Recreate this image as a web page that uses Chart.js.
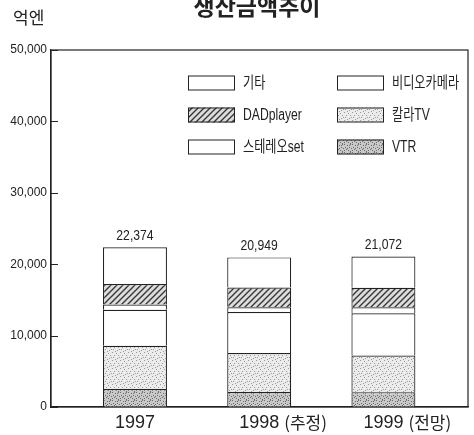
<!DOCTYPE html>
<html>
<head>
<meta charset="utf-8">
<script src="https://cdn.jsdelivr.net/npm/chart.js@4.4.1/dist/chart.umd.min.js"></script>
<style>
  html, body { margin: 0; padding: 0; background: #fff; }
</style>
</head>
<body>
<canvas id="prodChart" width="474" height="435"></canvas>
<script>
// 생산금액추이 (억엔)
const categories = ["1997", "1998 (추정)", "1999 (전망)"];
const totals = [22374, 20949, 21072];

// stacked from bottom to top
const vtr = [2510, 2110, 2080];
const colorTv = [6060, 5450, 5140];
const videoCamera = [5050, 5740, 5920];
const stereoSet = [720, 670, 820];
const dadPlayer = [2890, 2770, 2740];
const others = [5144, 4209, 4372];

const seriesNames = ["VTR", "칼라TV", "비디오카메라", "스테레오set", "DADplayer", "기타"];
const seriesValues = [vtr, colorTv, videoCamera, stereoSet, dadPlayer, others];
const legendCols = [["기타", "DADplayer", "스테레오set"], ["비디오카메라", "칼라TV", "VTR"]];

const LATIN = "'Liberation Sans', 'Noto Sans CJK KR', sans-serif";
const KR = "'Noto Sans CJK KR', sans-serif";
const INK = "#222";

// fill textures
function stipple(base, dot, dots) {
  const c = document.createElement("canvas");
  c.width = c.height = 8;
  const g = c.getContext("2d");
  g.fillStyle = base;
  g.fillRect(0, 0, 8, 8);
  g.fillStyle = dot;
  dots.forEach(([x, y]) => g.fillRect(x, y, 1, 1));
  return g.createPattern(c, "repeat");
}
function hatch() {
  const c = document.createElement("canvas");
  c.width = c.height = 6;
  const g = c.getContext("2d");
  g.fillStyle = "#dcdcdc";
  g.fillRect(0, 0, 6, 6);
  g.strokeStyle = "#333";
  g.lineWidth = 1.3;
  g.beginPath();
  g.moveTo(0, 6); g.lineTo(6, 0);
  g.moveTo(-3, 3); g.lineTo(3, -3);
  g.moveTo(3, 9); g.lineTo(9, 3);
  g.stroke();
  return g.createPattern(c, "repeat");
}
const vtrFill = stipple("#c8c8c8", "#6e6e6e",
  [[0,0],[3,1],[6,0],[1,3],[5,3],[2,5],[7,4],[4,6],[0,6],[6,7],[3,4],[5,1]]);
const tvFill = stipple("#ebebeb", "#9a9a9a",
  [[0,0],[4,1],[2,3],[6,3],[1,5],[5,6],[3,7],[7,5]]);
const fills = [vtrFill, tvFill, "#fff", "#fff", hatch(), "#fff"];

// text squeezed horizontally, like the condensed type of the original
function squeezed(ctx, text, x, y, sx) {
  ctx.save();
  ctx.translate(x, y);
  ctx.scale(sx, 1);
  ctx.fillText(text, 0, 0);
  ctx.restore();
}

const decor = {
  id: "decor",
  afterDraw(chart) {
    const ctx = chart.ctx;
    const a = chart.chartArea;
    ctx.save();
    ctx.strokeStyle = INK;
    ctx.lineWidth = 1.2;
    ctx.strokeRect(a.left, a.top, a.right - a.left, a.bottom - a.top);

    // y tick marks pointing into the plot
    const ys = chart.scales.y;
    ctx.beginPath();
    ys.ticks.forEach(t => {
      const py = Math.round(ys.getPixelForValue(t.value)) + 0.5;
      ctx.moveTo(a.left, py);
      ctx.lineTo(a.left + 7, py);
    });
    ctx.stroke();

    ctx.fillStyle = INK;
    ctx.textBaseline = "alphabetic";
    ctx.textAlign = "center";
    ctx.font = "bold 23px " + KR;
    ctx.fillText("생산금액추이", 257, 15);
    ctx.textAlign = "left";
    ctx.font = "17px " + KR;
    ctx.fillText("억엔", 13, 24);

    // totals on top of the stacks
    const topMeta = chart.getDatasetMeta(chart.data.datasets.length - 1);
    ctx.textAlign = "center";
    ctx.textBaseline = "middle";
    ctx.font = "14px " + LATIN;
    topMeta.data.forEach((bar, i) => {
      squeezed(ctx, totals[i].toLocaleString("en-US"), bar.x, bar.y - 11, 0.87);
    });

    // suffix after the year (추정 / 전망)
    const xs = chart.scales.x;
    categories.forEach((c, i) => {
      const parts = c.split(" ");
      if (parts.length < 2) return;
      ctx.font = "18px " + LATIN;
      const w = ctx.measureText(parts[0]).width;
      ctx.font = "17px " + KR;
      ctx.textAlign = "left";
      ctx.fillText(parts.slice(1).join(" "), xs.getPixelForValue(i) + w / 2 + 5, xs.top + 16);
    });

    // legend
    const colX = [188, 337];
    const rowY = [83, 115, 147];
    ctx.font = "16px " + LATIN;
    ctx.textAlign = "left";
    legendCols.forEach((col, ci) => {
      col.forEach((name, ri) => {
        const ds = chart.data.datasets.find(d => d.label === name);
        const x = colX[ci], y = rowY[ri];
        ctx.fillStyle = ds.backgroundColor;
        ctx.fillRect(x, y - 7.5, 47, 15);
        ctx.lineWidth = 1;
        ctx.strokeRect(x + 0.5, y - 7, 46, 14);
        ctx.fillStyle = INK;
        squeezed(ctx, name, x + 55, y + 1, 0.76);
      });
    });
    ctx.restore();
  }
};

new Chart(document.getElementById("prodChart").getContext("2d"), {
  type: "bar",
  data: {
    datasets: seriesNames.map((name, k) => ({
      label: name,
      data: seriesValues[k].map((v, i) => ({ x: i, y: v })),
      backgroundColor: fills[k],
      borderColor: INK,
      borderWidth: 1.2,
      barPercentage: 0.515,
      categoryPercentage: 1
    }))
  },
  options: {
    responsive: false,
    animation: false,
    layout: { padding: { top: 50, right: 6, left: 0, bottom: 0 } },
    plugins: {
      legend: { display: false },
      tooltip: { enabled: false },
      title: { display: false }
    },
    scales: {
      x: {
        type: "linear",
        stacked: true,
        min: -0.676,
        max: 2.681,
        offset: false,
        grid: { display: false, drawTicks: false },
        border: { display: true, color: INK, width: 1.2 },
        afterBuildTicks: s => { s.ticks = categories.map((c, i) => ({ value: i })); },
        afterFit: s => { s.height = 28; },
        ticks: {
          padding: 5,
          color: INK,
          font: { family: LATIN, size: 18 },
          callback: v => (categories[v] || "").split(" ")[0]
        }
      },
      y: {
        stacked: true,
        min: 0,
        max: 50000,
        grid: { display: false, drawTicks: false },
        border: { display: true, color: INK, width: 1.2 },
        afterFit: s => { s.width = 51; },
        ticks: {
          stepSize: 10000,
          padding: 4,
          color: INK,
          font: { family: LATIN, size: 12 }
        }
      }
    }
  },
  plugins: [decor]
});
</script>
</body>
</html>
